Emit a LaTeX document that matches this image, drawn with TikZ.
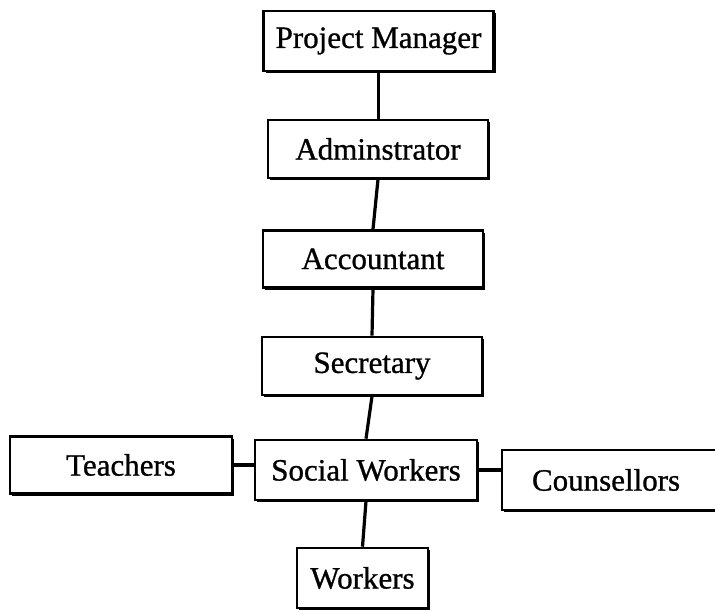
\documentclass[tikz,border=0pt]{standalone}
\usepackage{fontspec}
\setmainfont{Liberation Serif}[FakeBold=0.9]
\usetikzlibrary{shadows}
\tikzset{
  orgbox/.style={draw=black, fill=white, line width=2.6pt, rectangle,
    inner sep=0pt, font=\fontsize{31}{33}\selectfont,
    drop shadow={shadow xshift=2.4pt, shadow yshift=-2.4pt, fill=black, opacity=1}},
  link/.style={draw=black, line width=3.2pt}
}
\begin{document}
\begin{tikzpicture}[x=1pt,y=-1pt]
\useasboundingbox (0,0) rectangle (715,612);
\node[orgbox, minimum width=230pt, minimum height=60pt] (pm)   at (378.5,41) {Project Manager};
\node[orgbox, minimum width=220pt, minimum height=58pt] (adm)  at (378,149) {Adminstrator};
\node[orgbox, minimum width=220pt, minimum height=57pt] (acc)  at (373,259) {Accountant};
\node[orgbox, minimum width=220pt, minimum height=58pt] (sec)  at (372,366) {Secretary};
\node[orgbox, minimum width=222pt, minimum height=57pt] (tea)  at (121,465) {Teachers};
\node[orgbox, minimum width=222pt, minimum height=60pt] (sw)   at (366,470) {Social Workers};
\node[orgbox, minimum width=222pt, minimum height=60pt, text width=222pt, align=left] (cou) at (613,480) {\hspace*{30pt}Counsellors};
\node[orgbox, minimum width=131pt, minimum height=60pt] (wor)  at (362.5,578) {Workers};
\draw[link] (pm.south) -- (pm.south |- adm.north);
\draw[link] (adm.south) -- (acc.north);
\draw[link] (acc.south) -- (sec.north);
\draw[link] (sec.south) -- (sw.north);
\draw[link] (sw.south) -- (wor.north);
\draw[link] (tea.east) -- (tea.east -| sw.west);
\draw[link] (sw.east) -- (sw.east -| cou.west);
\end{tikzpicture}
\end{document}
